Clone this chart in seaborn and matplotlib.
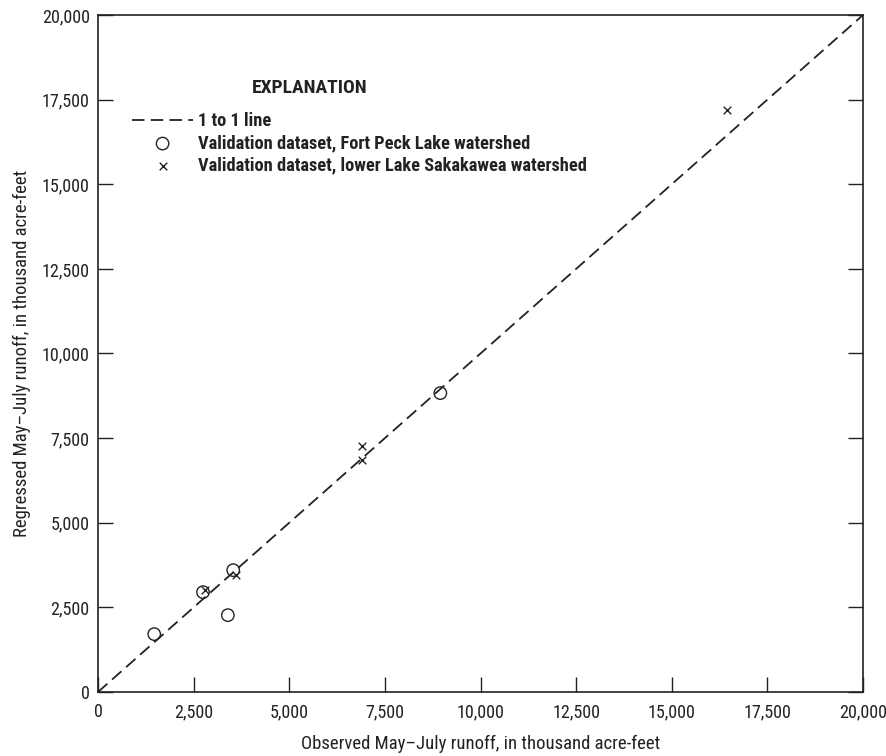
import matplotlib
matplotlib.use("Agg")
import matplotlib.pyplot as plt
import seaborn as sns
import pandas as pd
from matplotlib import font_manager

# ---- data ----
fort_peck_observed = [1470, 2745, 3535, 3395, 8950]
fort_peck_regressed = [1710, 2950, 3600, 2270, 8830]
sakakawea_observed = [2785, 3620, 6900, 6900, 16440]
sakakawea_regressed = [3010, 3465, 7275, 6855, 17190]
one_to_one = [0, 20000]
tick_values = [0, 2500, 5000, 7500, 10000, 12500, 15000, 17500, 20000]
tick_labels = ["0", "2,500", "5,000", "7,500", "10,000", "12,500", "15,000", "17,500", "20,000"]

sns.set_style("ticks")
names = {f.name for f in font_manager.fontManager.ttflist}
fam = [f for f in ["Roboto Condensed", "Liberation Sans Narrow", "Liberation Sans"] if f in names] + ["DejaVu Sans"]
plt.rcParams["font.family"] = fam
plt.rcParams["lines.scale_dashes"] = False

INK = "#222222"
fig = plt.figure(figsize=(8.87, 7.56), dpi=100)
ax = fig.add_axes([98 / 887, 1 - 692 / 756, (863 - 98) / 887, (692 - 15) / 756])

line_df = pd.DataFrame({"x": one_to_one, "y": one_to_one})
sns.lineplot(data=line_df, x="x", y="y", ax=ax, color=INK, lw=1.3,
             dashes=False, label="1 to 1 line", legend=False)
ax.lines[0].set_dashes((9, 4.5))

fp = pd.DataFrame({"x": fort_peck_observed, "y": fort_peck_regressed})
sk = pd.DataFrame({"x": sakakawea_observed, "y": sakakawea_regressed})
sns.scatterplot(data=fp, x="x", y="y", ax=ax, marker="o", s=80, facecolor="none",
                edgecolor=INK, linewidth=1.0,
                label="Validation dataset, Fort Peck Lake watershed", legend=False)
sns.scatterplot(data=sk, x="x", y="y", ax=ax, marker="x", s=30, color=INK,
                linewidth=1.0, label="Validation dataset, lower Lake Sakakawea watershed",
                legend=False)

ax.set_xlim(0, 20000)
ax.set_ylim(0, 20000)
ax.set_xticks(tick_values)
ax.set_xticklabels(tick_labels)
ax.set_yticks(tick_values)
ax.set_yticklabels(tick_labels)
ax.tick_params(direction="in", length=11, width=1.0, labelsize=13, colors=INK,
               right=True, top=False, pad=6)
ax.tick_params(axis="x", pad=8)
for s in ax.spines.values():
    s.set_visible(True)
    s.set_linewidth(1.2)
    s.set_color(INK)

ax.set_xlabel("Observed May\u2013July runoff, in thousand acre-feet", fontsize=13.5,
              color=INK, labelpad=10)
ax.set_ylabel("Regressed May\u2013July runoff, in thousand acre-feet", fontsize=13.5,
              color=INK, labelpad=8)

fig.text(310 / 887, 1 - 88 / 756, "EXPLANATION", fontsize=14, fontweight="bold",
         ha="center", va="center", color=INK)

leg = ax.legend(loc="upper left", bbox_to_anchor=(125 / 887, 1 - 105 / 756),
                bbox_transform=fig.transFigure, frameon=False, handlelength=3.3,
                handletextpad=0.3, labelspacing=0.22, prop={"weight": "bold", "size": 13.2},
                borderaxespad=0)
for t in leg.get_texts():
    t.set_color(INK)

fig.savefig("out.png", dpi=100)
